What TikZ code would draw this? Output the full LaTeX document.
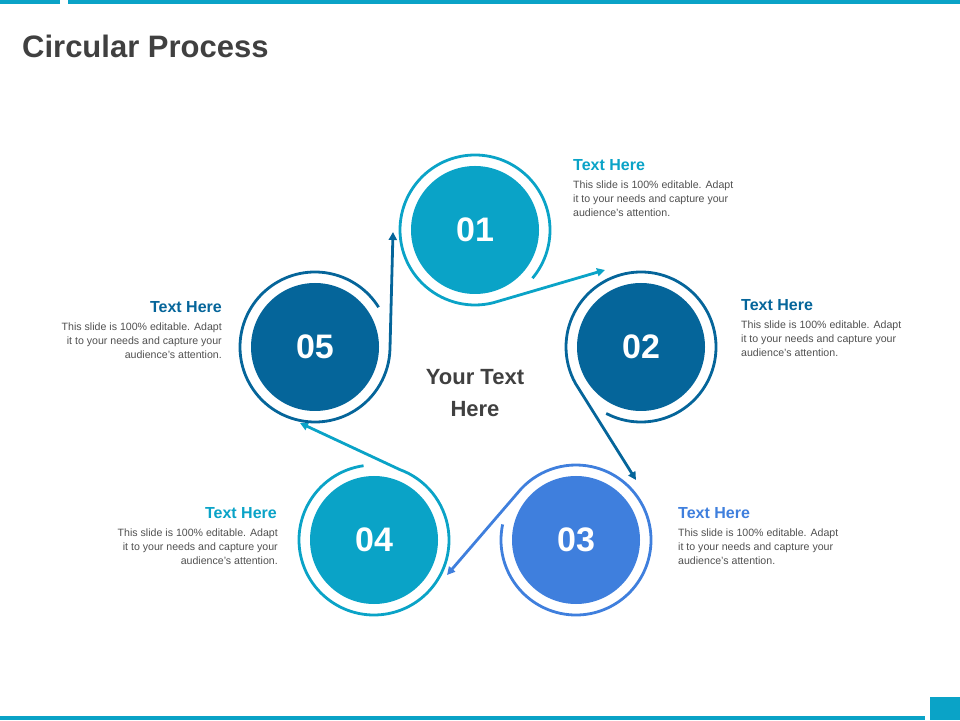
\documentclass[tikz,border=0pt]{standalone}
\usepackage{fontspec}
\setmainfont{Liberation Sans}
\usetikzlibrary{arrows.meta}
\definecolor{cA}{HTML}{0AA3C7}
\definecolor{cB}{HTML}{05659A}
\definecolor{cC}{HTML}{3F7FDD}
\definecolor{tgray}{HTML}{404040}
\definecolor{bgray}{HTML}{505050}
\begin{document}
\begin{tikzpicture}[x=1pt,y=1pt,
  disk/.style={circle,minimum size=128pt,inner sep=0pt,text=white,font=\bfseries\fontsize{34}{34}\selectfont},
  ring/.style={line width=2.8pt,-{Triangle[length=8pt,width=8pt]}},
  head/.style={font=\bfseries\fontsize{16}{18}\selectfont,inner sep=0pt},
  body/.style={font=\fontsize{10.6}{14}\selectfont,text=bgray,inner sep=0pt,align=left}]
\useasboundingbox (0,0) rectangle (960,720);
\fill[cA] (0,716) rectangle (60,720);
\fill[cA] (68,716) rectangle (960,720);
\fill[cA] (0,0) rectangle (925,4);
\fill[cA] (930,0) rectangle (960,23);
\node[anchor=west,text=tgray,font=\bfseries\fontsize{31}{31}\selectfont,inner sep=0pt] (title) at (22,674) {Circular Process};

\node[disk,fill=cA] (c1) at (475,490) {01};
\node[disk,fill=cB] (c2) at (641,373) {02};
\node[disk,fill=cC] (c3) at (576,180) {03};
\node[disk,fill=cA] (c4) at (374,180) {04};
\node[disk,fill=cB] (c5) at (315,373) {05};

\coordinate (a1) at (605,450);
\coordinate (a2) at (636,240);
\coordinate (a3) at (447,145);
\coordinate (a4) at (300,297);
\coordinate (a5) at (393,488);

\draw[ring,cA] ([shift={(-40:75)}]c1.center) arc[start angle=-40,end angle=284,radius=75] -- (a1);
\draw[ring,cB] ([shift={(-117.6:75)}]c2.center) arc[start angle=-117.6,end angle=209,radius=75] -- (a2);
\draw[ring,cC] ([shift={(168:75)}]c3.center) arc[start angle=168,end angle=501,radius=75] -- (a3);
\draw[ring,cA] ([shift={(98:75)}]c4.center) arc[start angle=98,end angle=430,radius=75] -- (a4);
\draw[ring,cB] ([shift={(32:75)}]c5.center) arc[start angle=32,end angle=358.5,radius=75] -- (a5);

\node[font=\bfseries\fontsize{22}{32}\selectfont,text=tgray,align=center] (ctr) at (475,327) {Your Text\\Here};

\node[head,text=cA,anchor=west] (h1) at (573,555) {Text Here};
\node[body,anchor=north west] (b1) at (573,539) {This slide is 100\% editable. Adapt\\it to your needs and capture your\\audience's attention.};
\node[head,text=cB,anchor=west] (h2) at (741,415) {Text Here};
\node[body,anchor=north west] (b2) at (741,399) {This slide is 100\% editable. Adapt\\it to your needs and capture your\\audience's attention.};
\node[head,text=cC,anchor=west] (h3) at (678,207) {Text Here};
\node[body,anchor=north west] (b3) at (678,191) {This slide is 100\% editable. Adapt\\it to your needs and capture your\\audience's attention.};
\node[head,text=cA,anchor=east] (h4) at (277,207) {Text Here};
\node[body,anchor=north east,align=right] (b4) at (278,191) {This slide is 100\% editable. Adapt\\it to your needs and capture your\\audience's attention.};
\node[head,text=cB,anchor=east] (h5) at (222,413) {Text Here};
\node[body,anchor=north east,align=right] (b5) at (222,397) {This slide is 100\% editable. Adapt\\it to your needs and capture your\\audience's attention.};
\end{tikzpicture}
\end{document}
